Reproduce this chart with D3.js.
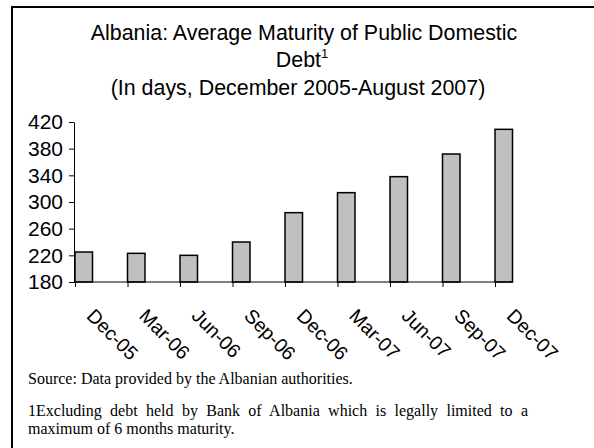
<!DOCTYPE html>
<html>
<head>
<meta charset="utf-8">
<script src="https://cdn.jsdelivr.net/npm/d3@7"></script>
<style>
  html, body { margin: 0; padding: 0; background: #fff; }
  svg { display: block; }
</style>
</head>
<body>
<svg id="chart" width="594" height="448"></svg>
<script>
// Average maturity of public domestic debt, in days
const categories = ["Dec-05", "Mar-06", "Jun-06", "Sep-06", "Dec-06", "Mar-07", "Jun-07", "Sep-07", "Dec-07"];
const maturityDays = [225, 223, 220, 240, 284, 314, 338, 372, 409];
const yTicks = [180, 220, 260, 300, 340, 380, 420];
const titleLines = ["Albania: Average Maturity of Public Domestic", "Debt", "(In days, December 2005-August 2007)"];
const footnotes = [
  "Source: Data provided by the Albanian authorities.",
  "1Excluding debt held by Bank of Albania which is legally limited to a",
  "maximum of 6 months maturity."
];

const svg = d3.select("#chart");
const sans = "Arial, 'Liberation Sans', sans-serif";
const serif = "'Times New Roman', 'Liberation Serif', serif";

// Frame (left and top edges)
svg.append("path")
  .attr("d", "M12,448 L12,7 L594,7")
  .attr("fill", "none")
  .attr("stroke", "#000")
  .attr("stroke-width", 2);

// Title
const title = svg.append("g").attr("font-family", sans).attr("font-size", 21.4).attr("text-anchor", "middle");
title.append("text").attr("x", 304).attr("y", 40).text(titleLines[0]);
const t2 = title.append("text").attr("x", 302).attr("y", 67);
t2.append("tspan").text(titleLines[1]);
t2.append("tspan").attr("font-size", 13).attr("dy", -9).text("1");
title.append("text").attr("x", 298).attr("y", 95).text(titleLines[2]);

// Scales
const y = d3.scaleLinear().domain([180, 420]).range([282, 122]);
const x = d3.scalePoint().domain(categories).range([75, 495]);
const barW = x.step() / 3;

// Bars
svg.append("g")
  .selectAll("rect")
  .data(maturityDays)
  .join("rect")
  .attr("x", (d, i) => x(categories[i]))
  .attr("y", d => y(d))
  .attr("width", barW)
  .attr("height", d => y(180) - y(d))
  .attr("fill", "#c0c0c0")
  .attr("stroke", "#000")
  .attr("stroke-width", 1.5);

// Y axis
const yAxis = svg.append("g")
  .attr("transform", "translate(74,0)")
  .call(d3.axisLeft(y).tickValues(yTicks).tickSize(5).tickSizeOuter(0).tickPadding(6));
yAxis.select(".domain").attr("stroke", "#000");
yAxis.selectAll("text").attr("font-family", sans).attr("font-size", 21).attr("fill", "#000");

// X axis
const xAxis = svg.append("g")
  .attr("transform", "translate(0,282)")
  .call(d3.axisBottom(x).tickSize(5).tickSizeOuter(0));
xAxis.select(".domain").remove();
xAxis.append("line")
  .attr("x1", 74).attr("x2", x(categories[categories.length - 1]) + barW)
  .attr("stroke", "#000");
xAxis.selectAll(".tick text")
  .attr("font-family", sans)
  .attr("font-size", 19.5)
  .attr("fill", "#000")
  .attr("text-anchor", "start")
  .attr("y", 0)
  .attr("dy", 0)
  .attr("transform", "translate(10,35) rotate(45)");

// Footnotes; the wrapped first line of the note is justified to the text block width
const notes = svg.append("g")
  .attr("font-family", serif)
  .attr("font-size", 16)
  .selectAll("text")
  .data(footnotes)
  .join("text")
  .attr("x", 28)
  .attr("y", (d, i) => [384, 416, 434][i])
  .text(d => d);

const justified = notes.filter((d, i) => i === 1);
const natural = justified.node().getComputedTextLength();
const spaces = footnotes[1].split(" ").length - 1;
justified.attr("word-spacing", Math.max(0, (500 - natural) / spaces));
</script>
</body>
</html>
